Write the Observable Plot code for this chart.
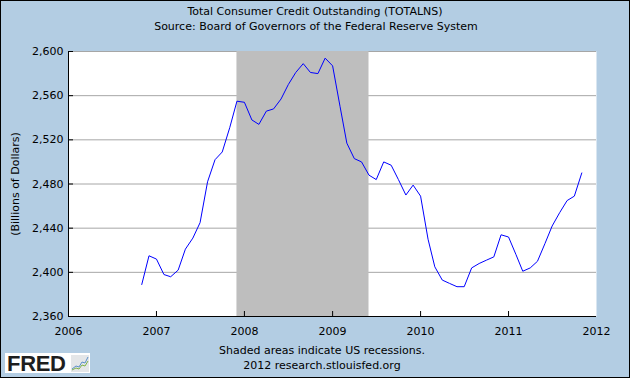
<!DOCTYPE html>
<html><head><meta charset="utf-8">
<script src="https://cdn.jsdelivr.net/npm/d3@7"></script>
<script src="https://cdn.jsdelivr.net/npm/@observablehq/plot@0.6"></script>
<style>
html,body{margin:0;padding:0;background:#b3cde3;}
#wrap{position:relative;width:630px;height:378px;background:#b3cde3;overflow:hidden;font-family:"DejaVu Sans",sans-serif;font-size:11px;color:#000;}
#wrap svg{position:absolute;left:0;top:0;}
.t{position:absolute;white-space:nowrap;text-align:center;line-height:13px;}
#ytitle{position:absolute;left:15px;top:183.5px;transform:translate(-50%,-50%) rotate(-90deg);white-space:nowrap;line-height:13px;}
#logo{position:absolute;left:5px;top:353px;width:85px;height:20px;background:#fff;}
#logo span{position:absolute;left:2px;top:0px;font-family:"Liberation Sans",sans-serif;font-weight:bold;font-size:22px;line-height:21px;color:#1e1e1e;letter-spacing:-0.3px;}
#logo svg{position:absolute;left:66px;top:2px;}
#border{position:absolute;left:0;top:0;width:630px;height:378px;box-sizing:border-box;border:1px solid #000;pointer-events:none;}
</style></head>
<body>
<div id="wrap">
  <div class="t" style="left:0;width:630px;top:5px;">Total Consumer Credit Outstanding (TOTALNS)</div>
  <div class="t" style="left:0;width:632px;top:20px;">Source: Board of Governors of the Federal Reserve System</div>
  <div id="ytitle">(Billions of Dollars)</div>
  <div class="t" style="left:0;width:644px;top:344px;">Shaded areas indicate US recessions.</div>
  <div class="t" style="left:0;width:644px;top:359px;">2012 research.stlouisfed.org</div>
  <div id="logo"><span>FRED</span>
    <svg width="18" height="17" viewBox="0 0 18 17"><rect width="18" height="17" fill="#e4e6e8"/><polyline points="1,14 5,11 8,12 11,7 14,8 17,2" fill="none" stroke="#5b8fc9" stroke-width="1"/><polyline points="1,15 5,13 8,14 11,10 14,11 17,6" fill="none" stroke="#7fb24a" stroke-width="1"/></svg>
  </div>
  <div id="border"></div>
</div>
<script>
const months = ["2006-11","2006-12",
  "2007-01","2007-02","2007-03","2007-04","2007-05","2007-06","2007-07","2007-08","2007-09","2007-10","2007-11","2007-12",
  "2008-01","2008-02","2008-03","2008-04","2008-05","2008-06","2008-07","2008-08","2008-09","2008-10","2008-11","2008-12",
  "2009-01","2009-02","2009-03","2009-04","2009-05","2009-06","2009-07","2009-08","2009-09","2009-10","2009-11","2009-12",
  "2010-01","2010-02","2010-03","2010-04","2010-05","2010-06","2010-07","2010-08","2010-09","2010-10","2010-11","2010-12",
  "2011-01","2011-02","2011-03","2011-04","2011-05","2011-06","2011-07","2011-08","2011-09","2011-10","2011-11"];
const values = [2389,2415,
  2412,2398,2396,2402,2421,2431,2445,2482,2502,2509,2531,2555,
  2554,2538,2534,2546,2548,2557,2570,2581,2589,2581,2580,2594,
  2587,2550,2517,2503,2500,2488,2484,2500,2497,2484,2470,2479,
  2469,2430,2405,2393,2390,2387,2387,2404,2408,2411,2414,2434,
  2432,2416,2401,2404,2410,2426,2442,2454,2465,2469,2490];
const recessionStart = ["2007-12"];
const recessionEnd = ["2009-06"];
const xTicks = ["2006","2007","2008","2009","2010","2011","2012"];
const yTicks = [2360,2400,2440,2480,2520,2560,2600];

const parseM = d3.utcParse("%Y-%m");
const parseY = d3.utcParse("%Y");
const data = months.map((m, i) => ({date: parseM(m), value: values[i]}));
const rec = recessionStart.map((s, i) => ({x1: parseM(s), x2: parseM(recessionEnd[i])}));
const xTickDates = xTicks.map(parseY);

const W = 630, H = 378, ML = 68, MR = 34, MT = 51, MB = 62;
const plotW = W - ML - MR, plotH = H - MT - MB;

const chart = Plot.plot({
  width: W, height: H,
  marginLeft: ML, marginRight: MR, marginTop: MT, marginBottom: MB,
  style: {background: "transparent", fontFamily: "DejaVu Sans, sans-serif", fontSize: "11px", color: "#000", overflow: "visible"},
  x: {type: "utc", domain: [xTickDates[0], xTickDates[xTickDates.length - 1]]},
  y: {domain: [yTicks[0], yTicks[yTicks.length - 1]]},
  marks: [
    Plot.frame({fill: "#fff", stroke: null}),
    Plot.gridY(yTicks.slice(1), {stroke: "#a6a6a6", strokeOpacity: 1}),
    Plot.rect(rec, {x1: "x1", x2: "x2", fill: "#bebebe"}),
    Plot.lineY(data, {x: "date", y: "value", stroke: "#0000ff", strokeWidth: 1}),
    Plot.gridX(xTickDates.slice(1, -1), {stroke: "#000", strokeOpacity: 1, insetTop: plotH - 5}),
    Plot.gridY(yTicks.slice(1), {stroke: "#000", strokeOpacity: 1, insetRight: plotW - 5}),
    Plot.ruleX([xTickDates[0]], {stroke: "#000"}),
    Plot.ruleY([yTicks[0]], {stroke: "#000"}),
    Plot.axisX(xTickDates, {tickFormat: d3.utcFormat("%Y"), tickSize: 0, tickPadding: 11, label: null, fill: "#000"}),
    Plot.axisY(yTicks, {tickFormat: d3.format(","), tickSize: 0, tickPadding: 5, label: null, fill: "#000"})
  ]
});
document.getElementById("wrap").insertBefore(chart, document.getElementById("wrap").firstChild);
</script>
</body></html>
